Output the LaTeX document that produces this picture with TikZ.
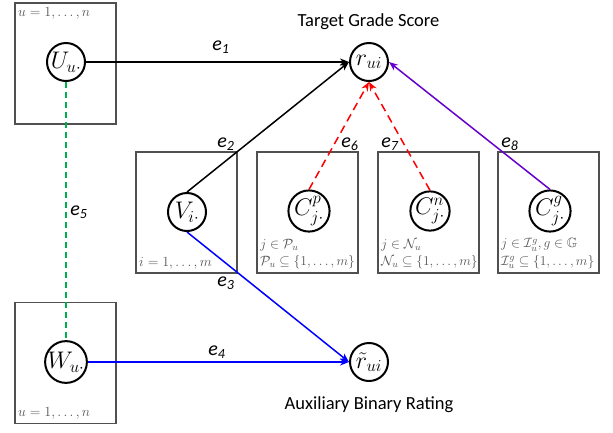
\RequirePackage{fix-cm}
\documentclass[tikz,border=0pt]{standalone}
\usepackage{amsmath,amssymb}
\usepackage{fontspec}
\newfontfamily\labelfont{Carlito}
\usetikzlibrary{arrows.meta}
\definecolor{platecol}{RGB}{80,80,80}
\definecolor{idxcol}{RGB}{85,85,85}
\definecolor{edgegreen}{RGB}{0,176,80}
\definecolor{edgered}{RGB}{255,0,0}
\definecolor{edgeblue}{RGB}{0,0,255}
\definecolor{edgeviolet}{RGB}{102,0,204}
\tikzset{
  plate/.style={draw=platecol, line width=1.5pt, minimum width=101pt, minimum height=121pt, inner sep=0pt},
  var/.style={circle, draw=black, line width=2pt, minimum size=38pt, inner sep=0pt, font=\fontsize{24}{28}\selectfont},
  idx/.style={text=idxcol, font=\fontsize{14}{16}\selectfont, inner sep=0pt, anchor=west},
  elabel/.style={font=\labelfont\itshape\fontsize{20}{24}\selectfont, inner sep=0pt},
  caption/.style={font=\labelfont\fontsize{18.5}{22}\selectfont, inner sep=0pt},
  edge/.style={line width=1.5pt, -{Stealth[length=9pt,width=7pt]}},
}
\begin{document}
\begin{tikzpicture}[x=1pt,y=-1pt]
\useasboundingbox (0,0) rectangle (613,432);
% plates
\node[plate] (pU) at (65.5,63.5) {};
\node[plate] (pW) at (65.5,363) {};
\node[plate] (pV) at (186.5,212.5) {};
\node[plate] (pP) at (307.5,212.5) {};
\node[plate] (pN) at (428.5,212.5) {};
\node[plate] (pG) at (548.5,212.5) {};
% plate indices
\node[idx] (iU) at (18,13) {$u=1,\ldots,n$};
\node[idx] (iW) at (18,413) {$u=1,\ldots,n$};
\node[idx] (iV) at (139,263) {$i=1,\ldots,m$};
\node[idx, font=\fontsize{13.5}{16}\selectfont] (iP1) at (260,245) {$j\in\mathcal{P}_u$};
\node[idx, font=\fontsize{13.5}{16}\selectfont] (iP2) at (260,262) {$\mathcal{P}_u\subseteq\{1,\ldots,m\}$};
\node[idx, font=\fontsize{13.5}{16}\selectfont] (iN1) at (381,245) {$j\in\mathcal{N}_u$};
\node[idx, font=\fontsize{13.5}{16}\selectfont] (iN2) at (381,262) {$\mathcal{N}_u\subseteq\{1,\ldots,m\}$};
\node[idx, font=\fontsize{13.5}{16}\selectfont] (iG1) at (501,245) {$j\in\mathcal{I}_u^g, g\in\mathbb{G}$};
\node[idx, font=\fontsize{13.5}{16}\selectfont] (iG2) at (501,262) {$\mathcal{I}_u^g\subseteq\{1,\ldots,m\}$};
% variables
\node[var] (U) at (66,62) {$U_{u\cdot}$};
\node[var] (W) at (66,362) {$W_{u\cdot}$};
\node[var] (V) at (187,212) {$V_{i\cdot}$};
\node[var] (Cp) at (309,211) {$C^p_{j\cdot}$};
\node[var] (Cn) at (430,211) {$C^n_{j\cdot}$};
\node[var] (Cg) at (550,211) {$C^g_{j\cdot}$};
\node[var] (r) at (369,62) {$r_{ui}$};
\node[var] (rt) at (369,362) {$\tilde{r}_{ui}$};
% captions
\node[caption] (tg) at (368.5,22) {Target Grade Score};
\node[caption] (ab) at (369,405) {Auxiliary Binary Rating};
% connectors
\draw[edge] (U.east) -- (r.west);
\draw[edge] (V.north) -- (r.west);
\draw[edge, edgeblue] (V.south) -- (rt.west);
\draw[edge, edgeblue] (W.east) -- (rt.west);
\draw[line width=1.5pt, edgegreen, dash pattern=on 6pt off 4pt] (U.south) -- (W.north);
\draw[edge, edgered, dash pattern=on 8pt off 5pt] (Cp.north) -- (r.south);
\draw[edge, edgered, dash pattern=on 8pt off 5pt] (Cn.north) -- (r.south);
\draw[edge, edgeviolet] (Cg.north) -- (r.east);
% edge labels
\node[elabel] (e1) at (221,47) {e\textsubscript{1}};
\node[elabel] (e2) at (226,144) {e\textsubscript{2}};
\node[elabel] (e3) at (226,283) {e\textsubscript{3}};
\node[elabel] (e4) at (217,352) {e\textsubscript{4}};
\node[elabel] (e5) at (79,212) {e\textsubscript{5}};
\node[elabel] (e6) at (350,144) {e\textsubscript{6}};
\node[elabel] (e7) at (390,144) {e\textsubscript{7}};
\node[elabel] (e8) at (510,144) {e\textsubscript{8}};
\end{tikzpicture}
\end{document}
